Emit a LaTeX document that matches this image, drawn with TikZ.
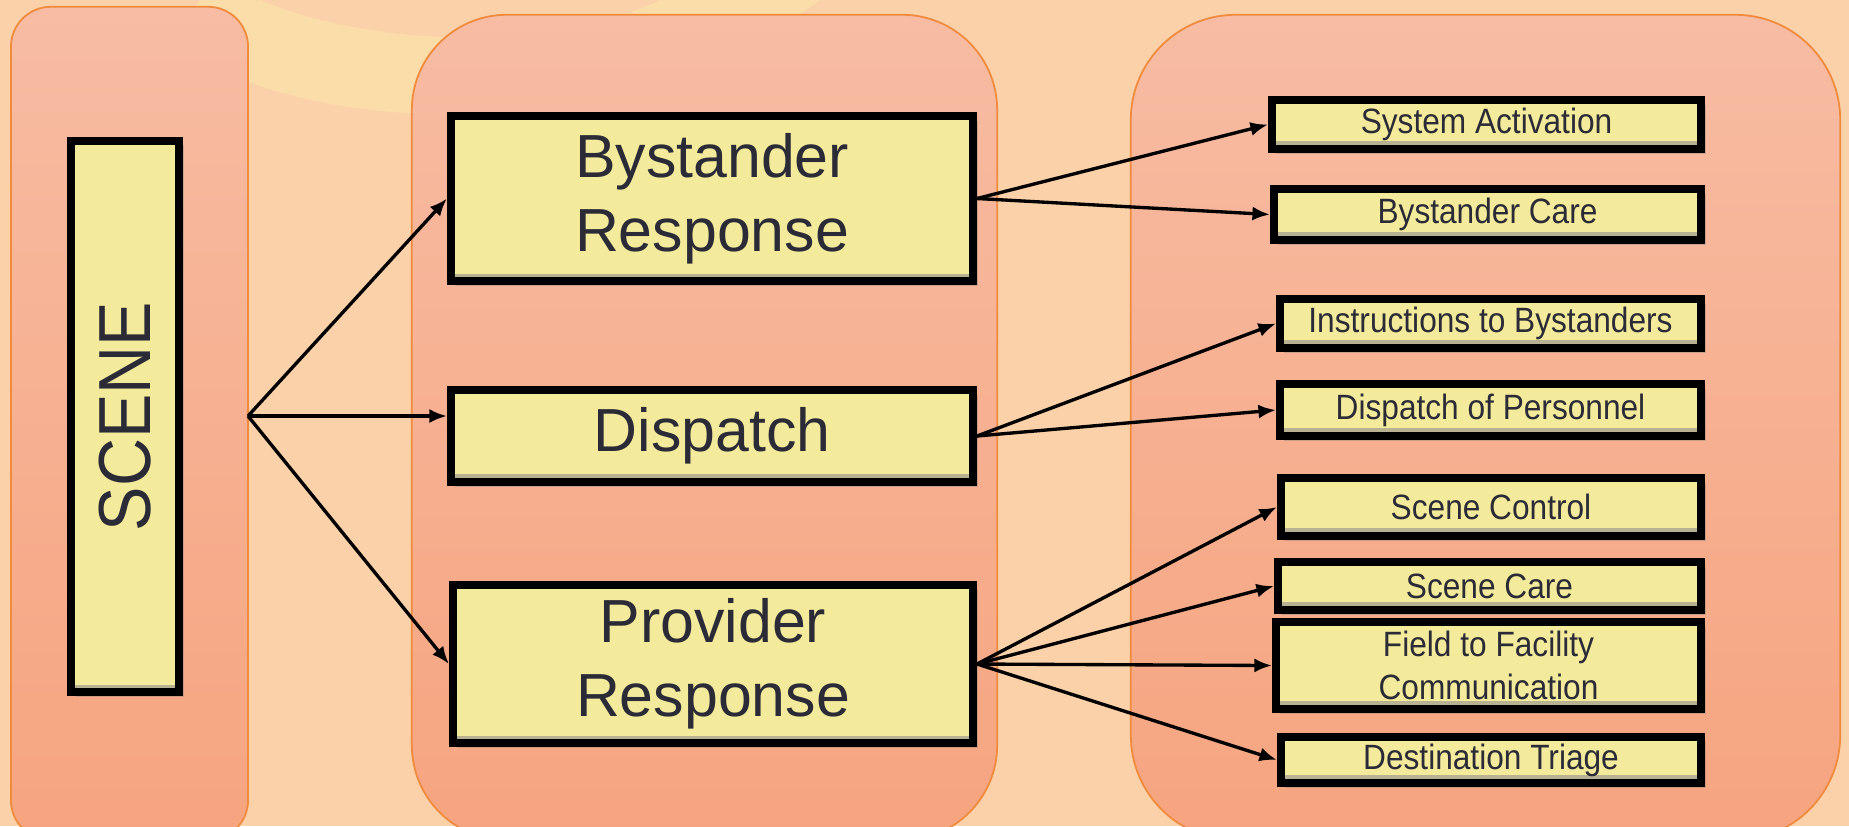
\documentclass[tikz,border=0pt]{standalone}
\usepackage{fontspec}
\setmainfont{Liberation Sans}
\newfontfamily\narrowsans[FakeStretch = 0.9]{Liberation Sans}
\usetikzlibrary{arrows.meta, shadows}
\definecolor{bgpeach}{HTML}{FAD1A9}
\definecolor{swoosh}{HTML}{FDE4A9}
\definecolor{paneltop}{HTML}{F7BCA3}
\definecolor{panelbot}{HTML}{F6A47F}
\definecolor{paneledge}{HTML}{F08A3C}
\definecolor{boxfill}{HTML}{F3EA9B}
\definecolor{bevel}{HTML}{B9B292}
\definecolor{ink}{HTML}{2A2B36}

\begin{document}
\begin{tikzpicture}[x = 0.01cm, y = -0.01cm,
    panel/.style = {shape = rectangle, draw = paneledge, line width = 0.5pt, top color = paneltop, bottom color = panelbot},
    bigbox/.style = {shape = rectangle, draw, line width = 2.2pt, fill = boxfill, text = ink, align = center, inner sep = 0pt,
        drop shadow = {shadow xshift = 1.3pt, shadow yshift = -1.3pt, opacity = 0.35},
        path picture = {\draw[bevel, line width = 0.9pt] ([yshift = 1.7pt]path picture bounding box.south west)
            -- ([yshift = 1.7pt]path picture bounding box.south east);},
        font = \fontsize{17.3}{21}\selectfont},
    smallbox/.style = {bigbox, font = \narrowsans\fontsize{10}{12}\selectfont},
    link/.style = {-{Latex[length = 5pt, width = 4pt]}, line width = 0.95pt}]
    \fill[bgpeach] (0,0) rectangle (1849,826);
    \useasboundingbox (0,0) rectangle (1849,826);
    \fill[swoosh, opacity = 0.65] (170,40) .. controls (300,140) and (620,150) .. (820,0) -- (660,0)
        .. controls (560,50) and (380,50) .. (260,0) -- (200,0) -- cycle;

    \node[panel, rounded corners = 0.4cm, minimum width = 2.37cm, minimum height = 8.33cm] (scenecol) at (129.5,423.5) {};
    \node[panel, rounded corners = 0.95cm, minimum width = 5.85cm, minimum height = 8.25cm] (responsecol) at (704.5,427.5) {};
    \node[panel, rounded corners = 1.05cm, minimum width = 7.09cm, minimum height = 8.25cm] (taskcol) at (1485.5,427.5) {};
    \coordinate (hub) at (248,416);

    \node[bigbox, minimum width = 1.08cm, minimum height = 5.51cm] (scene) at (125,416.5)
        {\rotatebox{90}{\narrowsans\fontsize{21}{25}\selectfont SCENE}};

    \node[bigbox, minimum width = 5.22cm, minimum height = 1.65cm] (bystander) at (712,198.5) {Bystander\\Response};
    \node[bigbox, minimum width = 5.22cm, minimum height = 0.92cm] (dispatch) at (712,436) {Dispatch};
    \node[bigbox, minimum width = 5.20cm, minimum height = 1.58cm] (provider) at (713,664) {Provider\\Response};

    \node[smallbox, minimum width = 4.29cm, minimum height = 0.49cm] (sysact) at (1486.5,124.5) {System Activation};
    \node[smallbox, minimum width = 4.27cm, minimum height = 0.51cm] (bycare) at (1487.5,214.5) {Bystander Care};
    \node[smallbox, minimum width = 4.21cm, minimum height = 0.49cm] (instr) at (1490.5,323.5) {Instructions to Bystanders};
    \node[smallbox, minimum width = 4.21cm, minimum height = 0.52cm] (personnel) at (1490.5,410) {Dispatch of Personnel};
    \node[smallbox, minimum width = 4.20cm, minimum height = 0.58cm] (control) at (1491,507) {Scene Control};
    \node[smallbox, minimum width = 4.23cm, minimum height = 0.48cm] (scenecare) at (1489.5,586) {Scene Care};
    \node[smallbox, minimum width = 4.25cm, minimum height = 0.87cm] (facility) at (1488.5,665.5) {Field to Facility\\Communication};
    \node[smallbox, minimum width = 4.20cm, minimum height = 0.46cm] (triage) at (1491,760) {Destination Triage};

    \draw[link] (hub) -- (bystander.west);
    \draw[link] (hub) -- (hub -| dispatch.west);
    \draw[link] (hub) -- (provider.west);
    \draw[link] (bystander.east) -- (sysact.west);
    \draw[link] (bystander.east) -- (bycare.west);
    \draw[link] (dispatch.east) -- (instr.west);
    \draw[link] (dispatch.east) -- (personnel.west);
    \foreach \t in {control, scenecare, facility, triage}
        \draw[link] (provider.east) -- (\t.west);
\end{tikzpicture}
\end{document}
